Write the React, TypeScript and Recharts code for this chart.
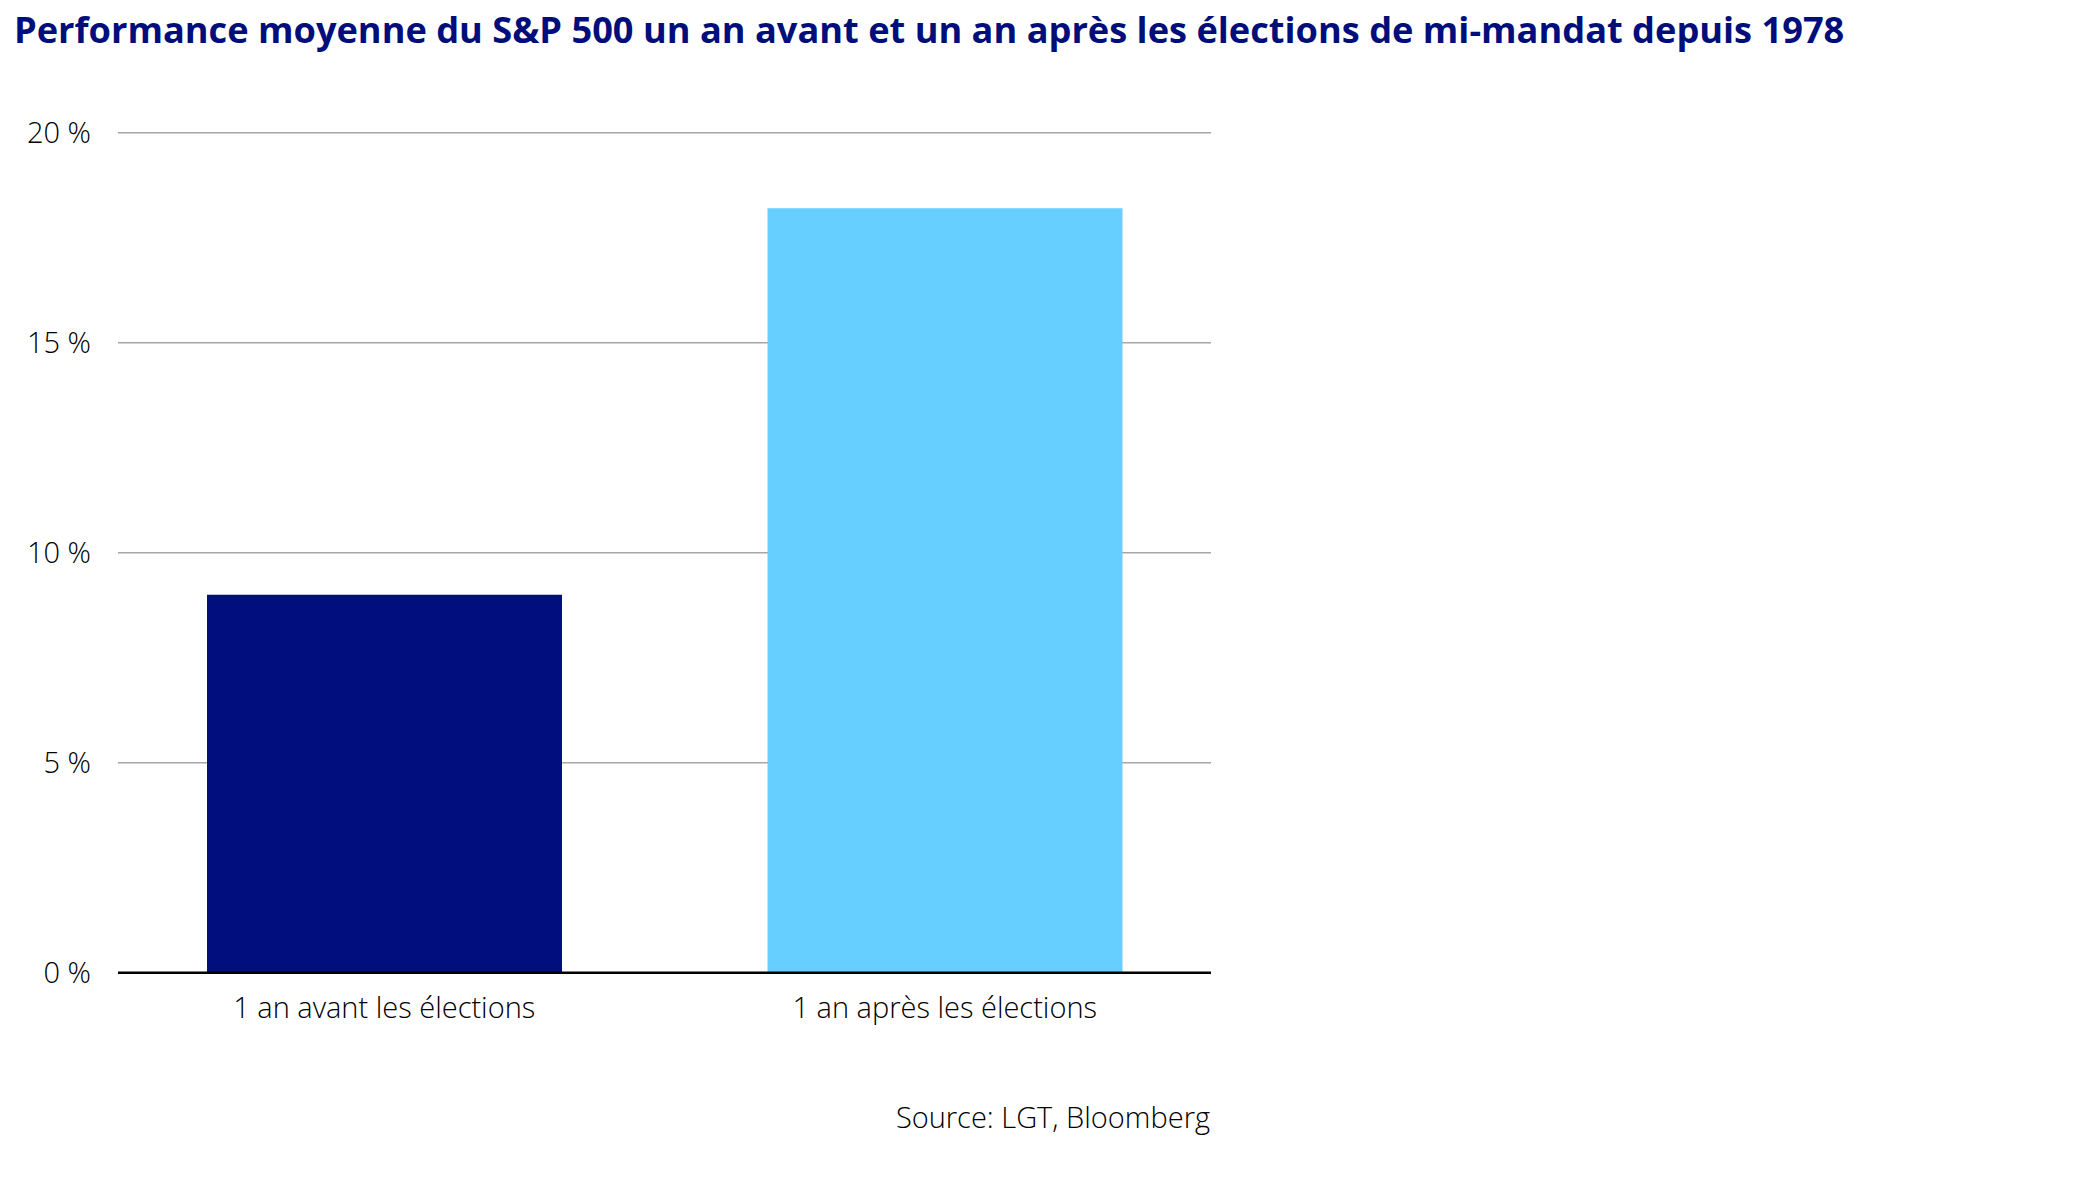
import { BarChart, Bar, XAxis, YAxis, CartesianGrid, Cell } from "recharts";

const categories = ["1 an avant les élections", "1 an après les élections"];
const performance = [9.0, 18.2];
const barColors = ["#000F7D", "#66CFFF"];
const yTicks = [0, 5, 10, 15, 20];

const title = "Performance moyenne du S&P 500 un an avant et un an après les élections de mi-mandat depuis 1978";
const source = "Source: LGT, Bloomberg";

const data = categories.map((name, i) => ({ name, value: performance[i] }));

const font = "'Open Sans', 'Noto Sans', sans-serif";

const YTick = (props: any) => {
    const { x, y, payload } = props;
    return (
        <text x={x} y={y} dy={10} textAnchor="end" fill="#000000" fontSize={29} fontFamily={font} fontWeight={300}>
            {`${payload.value} %`}
        </text>
    );
};

const XTick = (props: any) => {
    const { x, y, payload } = props;
    return (
        <text x={x} y={y} dy={45} textAnchor="middle" fill="#000000" fontSize={29} fontFamily={font} fontWeight={300}>
            {payload.value}
        </text>
    );
};

export default function App() {
    return (
        <div style={{ position: "absolute", left: 0, top: 0, width: 2079, height: 1182, background: "#FFFFFF" }}>
            <div
                style={{
                    position: "absolute",
                    left: 14,
                    top: 4,
                    fontFamily: font,
                    fontWeight: 700,
                    fontSize: 36.2,
                    color: "#000E7C",
                    whiteSpace: "nowrap",
                }}
            >
                {title}
            </div>
            <BarChart
                width={2079}
                height={1182}
                data={data}
                margin={{ top: 132.7, right: 868, left: 0, bottom: 179.3 }}
            >
                <CartesianGrid vertical={false} stroke="#A6A6A6" strokeWidth={1.5} />
                <YAxis
                    width={118}
                    domain={[0, 20]}
                    ticks={yTicks}
                    tick={YTick}
                    tickLine={false}
                    axisLine={false}
                    tickSize={0}
                    tickMargin={27}
                />
                <XAxis
                    dataKey="name"
                    height={30}
                    tick={XTick}
                    tickLine={false}
                    tickSize={0}
                    tickMargin={0}
                    padding={{ left: -14, right: -14 }}
                    axisLine={{ stroke: "#000000", strokeWidth: 2.5 }}
                />
                <Bar dataKey="value" barSize={355} isAnimationActive={false}>
                    {data.map((d, i) => (
                        <Cell key={d.name} fill={barColors[i]} />
                    ))}
                </Bar>
            </BarChart>
            <div
                style={{
                    position: "absolute",
                    right: 2079 - 1210,
                    top: 1097,
                    fontFamily: font,
                    fontWeight: 300,
                    fontSize: 29,
                    color: "#000000",
                    whiteSpace: "nowrap",
                }}
            >
                {source}
            </div>
        </div>
    );
}
